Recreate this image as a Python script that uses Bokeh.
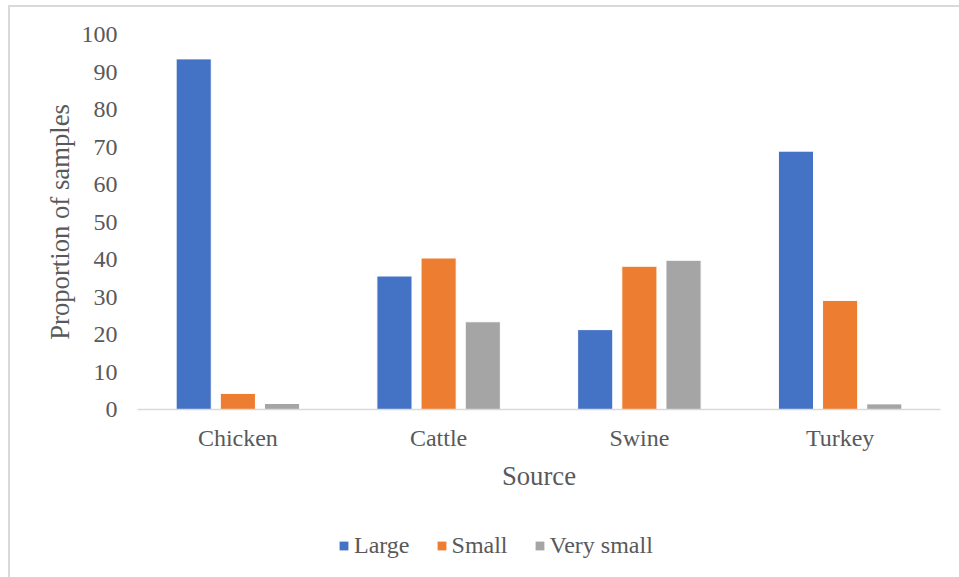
from bokeh.plotting import figure
from bokeh.layouts import column
from bokeh.models import ColumnDataSource, FactorRange, Legend, LegendItem, Range1d
from bokeh.transform import dodge
from bokeh.embed import file_html
from bokeh.resources import INLINE

sources = ["Chicken", "Cattle", "Swine", "Turkey"]
large = [93.5, 35.6, 21.3, 68.9]
small = [4.3, 40.4, 38.2, 29.1]
very_small = [1.6, 23.4, 39.8, 1.5]
series = ["Large", "Small", "Very small"]
colors = ["#4472C4", "#ED7D31", "#A5A5A5"]
y_ticks = [0, 10, 20, 30, 40, 50, 60, 70, 80, 90, 100]

src = ColumnDataSource(dict(source=sources, large=large, small=small, very_small=very_small))

FONT = "Liberation Serif"
TXT = "#595959"

# canvas offset by the chart border (8px margin + 2px border left, 5px margin + 2px border top)
OX, OY = 10, 7
W = 959 - OX
H1 = 500
H2 = 577 - OY - H1

p = figure(x_range=FactorRange(*sources), y_range=Range1d(0, 100),
           width=W, height=H1, output_backend="svg", toolbar_location=None,
           min_border_left=137 - OX, min_border_right=19, min_border_top=34 - OY,
           min_border_bottom=H1 - (409 - OY))

offsets = [-0.22, 0.0, 0.22]
fields = ["large", "small", "very_small"]
for f, off, c in zip(fields, offsets, colors):
    p.vbar(x=dodge("source", off, range=p.x_range), top=f, width=0.175, source=src,
           fill_color=c, line_color="white", line_width=1)

p.xgrid.visible = False
p.ygrid.visible = False
p.outline_line_color = None

p.yaxis.ticker = y_ticks
p.yaxis.axis_line_color = None
p.yaxis.major_tick_line_color = None
p.yaxis.minor_tick_line_color = None
p.yaxis.major_label_text_font = FONT
p.yaxis.major_label_text_font_size = "24px"
p.yaxis.major_label_text_color = TXT
p.yaxis.major_label_standoff = 14
p.yaxis.axis_label = "Proportion of samples"
p.yaxis.axis_label_text_font = FONT
p.yaxis.axis_label_text_font_size = "26.7px"
p.yaxis.axis_label_text_font_style = "normal"
p.yaxis.axis_label_text_color = TXT
p.yaxis.axis_label_standoff = 4

p.xaxis.axis_line_color = "#D9D9D9"
p.xaxis.axis_line_width = 1.5
p.xaxis.major_tick_line_color = None
p.xaxis.minor_tick_line_color = None
p.xaxis.major_label_text_font = FONT
p.xaxis.major_label_text_font_size = "24px"
p.xaxis.major_label_text_color = TXT
p.xaxis.major_label_standoff = 9
p.xaxis.axis_label = "Source"
p.xaxis.axis_label_text_font = FONT
p.xaxis.axis_label_text_font_size = "26.7px"
p.xaxis.axis_label_text_font_style = "normal"
p.xaxis.axis_label_text_color = TXT
p.xaxis.axis_label_standoff = 7

# legend strip: same series drawn out of view, only the legend shows
lg = figure(x_range=FactorRange(*sources), y_range=Range1d(1000, 1001),
            width=W, height=H2, output_backend="svg", toolbar_location=None,
            x_axis_location=None, y_axis_location=None, min_border=0)
lg.xgrid.visible = False
lg.ygrid.visible = False
lg.outline_line_color = None
lrs = []
for f, off, c in zip(fields, offsets, colors):
    lrs.append(lg.vbar(x=dodge("source", off, range=lg.x_range), top=f, width=0.175, source=src,
                       fill_color=c, line_color=None))

# frames of the column children are aligned, so x is measured from the main frame's left edge (137)
legend = Legend(items=[LegendItem(label=s, renderers=[r]) for s, r in zip(series, lrs)],
                orientation="horizontal", location=(338 - 137, H2 - (545 - 507) - 14),
                label_text_font=FONT, label_text_font_size="24px", label_text_color=TXT,
                glyph_width=11, glyph_height=11, label_standoff=5, spacing=26,
                border_line_color=None, background_fill_alpha=0, margin=0, padding=0)
lg.add_layout(legend, "center")

layout = column(p, lg, spacing=0)
layout.margin = (5, 0, 0, 8)
layout.styles = {"border-top": "2px solid #D9D9D9", "border-left": "2px solid #D9D9D9"}

open("out.html", "w").write(file_html(layout, INLINE))
